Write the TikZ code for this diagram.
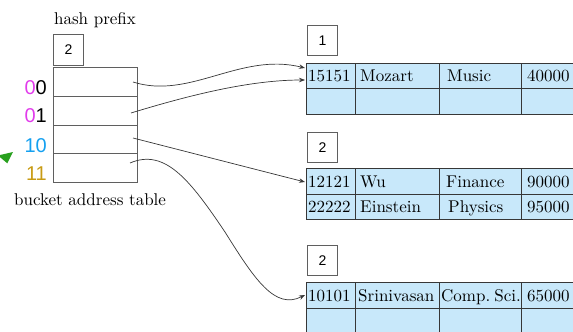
\documentclass[tikz,border=0pt]{standalone}
\usepackage{fontspec}
\setmainfont{lmroman10-regular}[Extension=.otf, BoldFont=lmroman10-bold]
\newfontfamily\digitsans{Liberation Sans}
\usetikzlibrary{arrows.meta}
\definecolor{cellblue}{RGB}{200,232,250}
\definecolor{rulegray}{RGB}{55,55,55}
\definecolor{boxgray}{RGB}{95,95,95}
\definecolor{bitpink}{RGB}{225,60,235}
\definecolor{bitblue}{RGB}{20,160,240}
\definecolor{bitgold}{RGB}{200,155,20}
\definecolor{pointergreen}{RGB}{40,160,30}
\begin{document}
\begin{tikzpicture}[x=1pt,y=-1pt,
  cell/.style={draw=rulegray, fill=cellblue, line width=0.8pt, anchor=north west,
               minimum height=25.5pt, inner sep=0pt},
  slot/.style={draw=boxgray, line width=0.8pt, anchor=north west,
               minimum width=84pt, minimum height=28.75pt, inner sep=0pt},
  depthbox/.style={draw=boxgray, line width=0.8pt, anchor=north west,
               minimum width=30pt, minimum height=30pt, inner sep=0pt,
               font=\digitsans\fontsize{14}{16}\selectfont},
  txt/.style={anchor=base west, inner sep=0pt, font=\fontsize{17}{20}\selectfont},
  bits/.style={anchor=base east, inner sep=0pt, font=\digitsans\fontsize{20}{24}\selectfont},
  ptr/.style={draw=rulegray, line width=0.7pt, -{Stealth[length=6pt,width=4.5pt]}}
]
\clip (0,0) rectangle (573,332);

% ---- directory: global depth and bucket address table ----
\node[txt, anchor=base] (hp) at (95,24) {hash prefix};
\node[depthbox, minimum height=31pt] (gdepth) at (53,34) {2};
\node[slot] (s00) at (53,67) {};
\node[slot] (s01) at (53,95.75) {};
\node[slot] (s10) at (53,124.5) {};
\node[slot] (s11) at (53,153.25) {};
\node[bits] (b00) at (47,94)  {\textcolor{bitpink}{0}0};
\node[bits] (b01) at (47,122) {\textcolor{bitpink}{0}1};
\node[bits, text=bitblue] (b10) at (47,152) {10};
\node[bits, text=bitgold] (b11) at (47,180) {11};
\node[txt] (bat) at (14,205) {bucket address table};

% marker pointing at the directory
\fill[pointergreen] (-2,155.5) -- (13,152) -- (7.3,163.3) -- cycle;

% ---- bucket 1 ----
\node[depthbox] (d1) at (307,25) {1};
\node[cell, minimum width=49pt] (a1) at (306,62.5) {};
\node[cell, minimum width=84pt] (a2) at (355,62.5) {};
\node[cell, minimum width=82pt] (a3) at (439,62.5) {};
\node[cell, minimum width=80pt] (a4) at (521,62.5) {};
\node[cell, minimum width=49pt] (a5) at (306,88) {};
\node[cell, minimum width=84pt] (a6) at (355,88) {};
\node[cell, minimum width=82pt] (a7) at (439,88) {};
\node[cell, minimum width=80pt] (a8) at (521,88) {};
\node[txt] (ta1) at (308,81.5) {15151};
\node[txt] (ta2) at (360,81.5) {Mozart};
\node[txt] (ta3) at (447,81.5) {Music};
\node[txt] (ta4) at (527,81.5) {40000};

% ---- bucket 2 ----
\node[depthbox] (d2) at (307,132) {2};
\node[cell, minimum width=49pt] (c1) at (306,168) {};
\node[cell, minimum width=84pt] (c2) at (355,168) {};
\node[cell, minimum width=82pt] (c3) at (439,168) {};
\node[cell, minimum width=80pt] (c4) at (521,168) {};
\node[cell, minimum width=49pt] (c5) at (306,193.5) {};
\node[cell, minimum width=84pt] (c6) at (355,193.5) {};
\node[cell, minimum width=82pt] (c7) at (439,193.5) {};
\node[cell, minimum width=80pt] (c8) at (521,193.5) {};
\node[txt] (tc1) at (308,187) {12121};
\node[txt] (tc2) at (360,187) {Wu};
\node[txt] (tc3) at (446,187) {Finance};
\node[txt] (tc4) at (527,187) {90000};
\node[txt] (tc5) at (308,212.5) {22222};
\node[txt] (tc6) at (360,212.5) {Einstein};
\node[txt] (tc7) at (448,212.5) {Physics};
\node[txt] (tc8) at (527,212.5) {95000};

% ---- bucket 3 ----
\node[depthbox] (d3) at (307,245) {2};
\node[cell, minimum width=49pt] (e1) at (306,282) {};
\node[cell, minimum width=84pt] (e2) at (355,282) {};
\node[cell, minimum width=82pt] (e3) at (439,282) {};
\node[cell, minimum width=80pt] (e4) at (521,282) {};
\node[cell, minimum width=49pt] (e5) at (306,307.5) {};
\node[cell, minimum width=84pt] (e6) at (355,307.5) {};
\node[cell, minimum width=82pt] (e7) at (439,307.5) {};
\node[cell, minimum width=80pt] (e8) at (521,307.5) {};
\node[txt] (te1) at (308,301) {10101};
\node[txt] (te2) at (358,301) {Srinivasan};
\node[txt] (te3) at (441,301) {Comp.\kern-1.5pt\ Sci.};
\node[txt] (te4) at (527,301) {65000};

% ---- pointers from directory entries to buckets ----
\coordinate (p00) at (133,82);
\coordinate (p01) at (131,113);
\coordinate (p10) at (133,138);
\coordinate (p11) at (130,163);
\coordinate (in1a) at (305,68);
\coordinate (in1b) at (305,80);
\coordinate (in2) at (305,182);
\coordinate (in3) at (305,295);
\draw[ptr] (p00) .. controls (190,100) and (240,52) .. (in1a);
\draw[ptr] (p01) .. controls (190,95) and (250,80) .. (in1b);
\draw[ptr] (p10) .. controls (180,150) and (250,168) .. (in2);
\draw[ptr] (p11) .. controls (165,148) and (190,180) .. (225,232)
                 .. controls (255,280) and (275,310) .. (in3);
\end{tikzpicture}
\end{document}
